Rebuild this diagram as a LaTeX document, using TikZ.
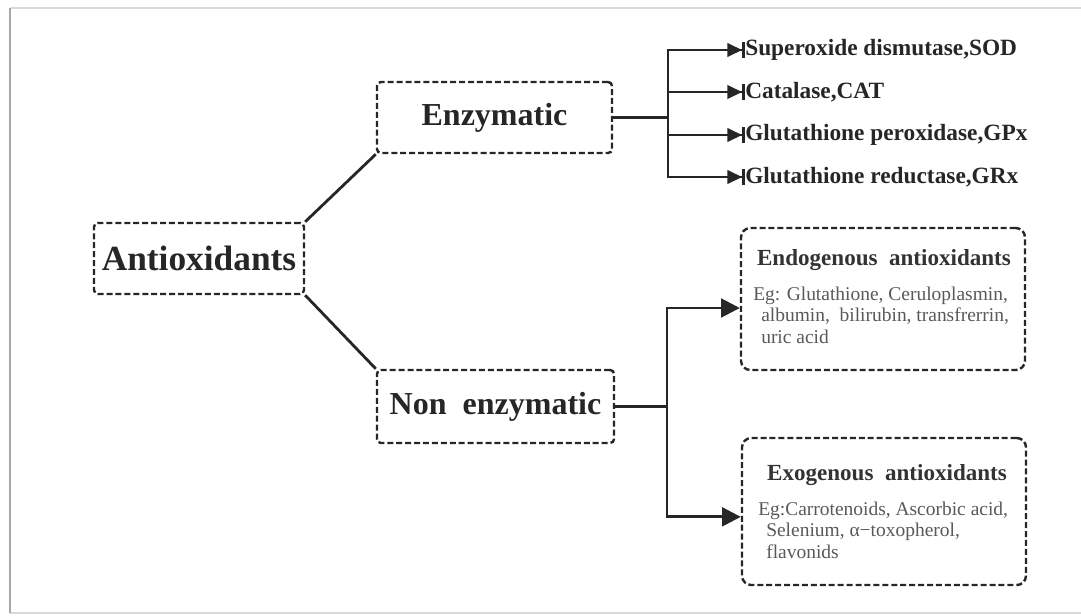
\documentclass[tikz,border=0pt]{standalone}
\usepackage{fontspec}
\setmainfont{Liberation Serif}
\usetikzlibrary{arrows.meta}

\begin{document}
\begin{tikzpicture}[x=0.75pt, y=-0.75pt,
    dashBox/.style={draw=black!85, line width=1.8pt, dash pattern=on 4.5pt off 2.2pt,
      rounded corners=3pt, inner sep=0pt},
    bigBox/.style={dashBox, rounded corners=7pt, minimum width=213pt},
    link/.style={line width=2.1pt, color=black!85},
    enzArrow/.style={link, -{Triangle[length=11pt,width=10pt]Bar[width=12pt,line width=2.2pt]}},
    bigArrow/.style={link, -{Triangle[length=14pt,width=14pt]}},
    enzName/.style={anchor=west, inner sep=0pt, text=black!85,
      font=\bfseries\fontsize{17.5}{20}\selectfont},
    boxTitle/.style={anchor=base, inner sep=0pt, text=black!80,
      font=\bfseries\fontsize{17.3}{20}\selectfont},
    boxBody/.style={anchor=base west, inner sep=0pt, align=left, text=black!65,
      font=\fontsize{14.6}{16.1}\selectfont}]
  \useasboundingbox (0,0) rectangle (1081,615);

  % frame
  \draw[black!15, line width=1.2pt] (1081,8) -- (10,8);
  \draw[black!15, line width=1.5pt] (10,613) -- (1081,613);
  \draw[black!35, line width=2pt] (10,8) -- (10,613);

  % main boxes
  \node[dashBox, minimum width=157.5pt, minimum height=53.3pt,
    font=\bfseries\fontsize{26.5}{30}\selectfont, text=black!85] (anti) at (199,258.5) {Antioxidants};
  \node[dashBox, minimum width=176.3pt, minimum height=53.3pt,
    font=\bfseries\fontsize{24}{28}\selectfont, text=black!85] (enz) at (494.5,117.5) {Enzymatic};
  \node[dashBox, minimum width=177.8pt, minimum height=54.8pt,
    font=\bfseries\fontsize{24}{28}\selectfont, text=black!85] (nonEnz) at (495.5,406.5) {Non\ \ enzymatic};

  \draw[link] (anti.north east) -- (enz.south west);
  \draw[link] (anti.south east) -- (nonEnz.north west);

  % enzymatic branch
  \node[enzName] (sod) at (745,50) {Superoxide dismutase,SOD};
  \node[enzName] (cat) at (745,92) {Catalase,CAT};
  \node[enzName] (gpx) at (745,135) {Glutathione peroxidase,GPx};
  \node[enzName] (grx) at (745,177) {Glutathione reductase,GRx};

  \coordinate (eSplit) at (668,117.5);
  \draw[link] (enz.east) -- (eSplit);
  \draw[link, line cap=rect] (eSplit |- sod.west) -- (eSplit |- grx.west);
  \foreach \n in {sod,cat,gpx,grx}
    \draw[enzArrow] (eSplit |- \n.west) -- (\n.west);

  % non enzymatic branch
  \node[bigBox, minimum height=106.5pt] (endo) at (883,299) {};
  \node[boxTitle] (endoTitle) at (884,265) {Endogenous\ \ antioxidants};
  \node[boxBody] (endoList) at (753,343) {Eg: Glutathione, Ceruloplasmin,\\
    \hspace{6pt}albumin,\ \ bilirubin, transfrerrin,\\
    \hspace{6pt}uric\ acid};

  \node[bigBox, minimum height=110.3pt] (exo) at (884,511.5) {};
  \node[boxTitle] (exoTitle) at (887,480) {Exogenous\ \ antioxidants};
  \node[boxBody] (exoList) at (758,558) {Eg:Carrotenoids, Ascorbic\ acid,\\
    \hspace{6pt}Selenium, α−toxopherol,\\
    \hspace{6pt}flavonids};

  \coordinate (nSplit) at (667,406.5);
  \draw[link] (nonEnz.east) -- (nSplit);
  \draw[bigArrow] (nSplit) |- ([yshift=-6.75pt]endo.west);
  \draw[bigArrow] (nSplit) |- ([yshift=-4pt]exo.west);
\end{tikzpicture}
\end{document}
